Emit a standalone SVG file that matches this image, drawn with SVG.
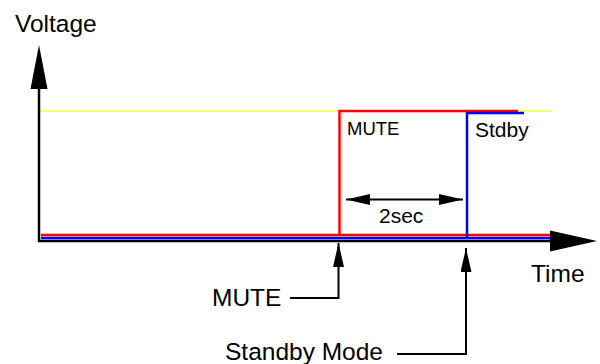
<svg xmlns="http://www.w3.org/2000/svg" width="600" height="364" viewBox="0 0 600 364">
<style>
  .lbl { font-family: "Liberation Sans", Arial, sans-serif; fill: #000; }
  .big { font-size: 24.5px; }
  .ax { stroke: #000; stroke-width: 2.5; fill: none; }
  .call { stroke: #000; stroke-width: 2; fill: none; }
  .red { stroke: #ff0000; stroke-width: 2.5; fill: none; }
  .blue { stroke: #0000ff; stroke-width: 2.5; fill: none; }
  .yel { stroke: #ffff33; stroke-width: 1.5; fill: none; }
</style>
<defs>
  <marker id="ah" viewBox="0 0 24 11" refX="24" refY="5.5" markerWidth="24" markerHeight="11" markerUnits="userSpaceOnUse" orient="auto-start-reverse">
    <path d="M0,0 L24,5.5 L0,11 Z" fill="#000"/>
  </marker>
</defs>
<rect width="600" height="364" fill="#fff"/>
<g id="signals">
  <line class="yel" x1="40" y1="111" x2="551" y2="111"/>
  <line class="red" x1="41" y1="235" x2="550" y2="235"/>
  <line class="blue" x1="41" y1="238" x2="550" y2="238"/>
  <polyline class="red" points="339.5,235 339.5,111 518,111"/>
  <polyline class="blue" points="467,238 467,113 524,113"/>
</g>
<g id="axes">
  <line class="ax" x1="39" y1="88" x2="39" y2="242"/>
  <path d="M39,45 L30.5,89 L47.5,89 Z" fill="#000"/>
  <line class="ax" x1="38" y1="241" x2="551" y2="241"/>
  <path d="M597,241 L550,230.5 L550,251.5 Z" fill="#000"/>
</g>
<g id="labels">
  <text class="lbl big" x="15" y="32">Voltage</text>
  <text class="lbl big" x="531" y="282">Time</text>
  <text class="lbl" font-size="18.5" x="347" y="135">MUTE</text>
  <text class="lbl" font-size="21" x="475" y="137">Stdby</text>
  <text class="lbl" font-size="21" x="379" y="223">2sec</text>
</g>
<g id="mute-callout">
  <text class="lbl big" x="212" y="306">MUTE</text>
  <polyline class="call" points="290,298 338.5,298 338.5,243" marker-end="url(#ah)"/>
</g>
<g id="standby-callout">
  <text class="lbl big" x="225" y="360">Standby Mode</text>
  <polyline class="call" points="397,354 466,354 466,248" marker-end="url(#ah)"/>
</g>
<g id="connectors">
  <line class="call" x1="346" y1="199.5" x2="463" y2="199.5" marker-start="url(#ah)" marker-end="url(#ah)"/>
</g>
</svg>
